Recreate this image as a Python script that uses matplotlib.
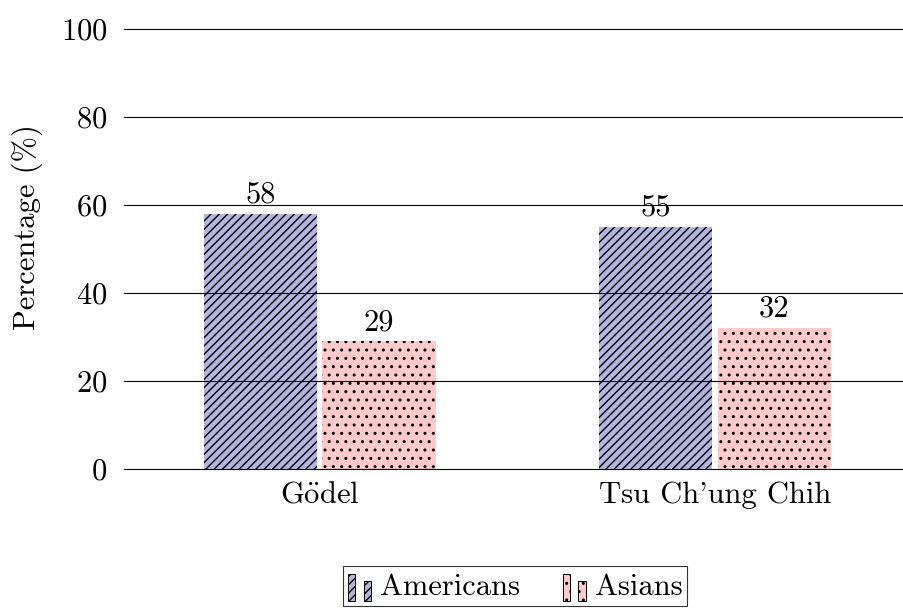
import matplotlib
matplotlib.use("Agg")
import matplotlib.pyplot as plt
from matplotlib.legend_handler import HandlerBase
from matplotlib.patches import Rectangle
from matplotlib.container import BarContainer
import numpy as np

plt.rcParams["font.family"] = ["cmr10", "DejaVu Serif"]
plt.rcParams["mathtext.fontset"] = "cm"
plt.rcParams["axes.formatter.use_mathtext"] = True
plt.rcParams["hatch.linewidth"] = 1.0

# data
people = [r"G$\ddot{\mathrm{o}}$del", "Tsu Ch'ung Chih"]
americans = [58, 55]
asians = [29, 32]
series_names = ["Americans", "Asians"]
yticks = [0, 20, 40, 60, 80, 100]

FS = 22


class TwoBarHandler(HandlerBase):
    # pgfplots-style legend image: two little bars
    def create_artists(self, legend, orig_handle, xdescent, ydescent,
                       width, height, fontsize, trans):
        p = orig_handle.patches[0]
        w = width * 0.32
        x0 = -xdescent
        y0 = -ydescent - 0.1 * height
        arts = []
        for dx, h in [(0.0, 1.0 * height), (width - w, 0.74 * height)]:
            r = Rectangle((x0 + dx, y0), w, h, facecolor=p.get_facecolor(),
                          edgecolor="black", hatch=p.get_hatch(),
                          linewidth=0.7, transform=trans)
            arts.append(r)
        return arts


fig = plt.figure(figsize=(9.04, 6.12), dpi=100)
ax = fig.add_axes([0.137, 0.2337, 0.862, 0.7189])

x = np.arange(len(people))
bw = 0.287
b1 = ax.bar(x - 0.15, americans, bw, color="#b4b4e0", edgecolor="black",
            linewidth=0, hatch="////", label=series_names[0])
b2 = ax.bar(x + 0.15, asians, bw, color="#ffcaca", edgecolor="black",
            linewidth=0, hatch="..", label=series_names[1])

for bars, vals in [(b1, americans), (b2, asians)]:
    for rect, v in zip(bars, vals):
        ax.text(rect.get_x() + rect.get_width() / 2, v + 1.2, str(v),
                ha="center", va="bottom", fontsize=FS)

ax.set_xlim(-0.496, 1.476)
ax.set_ylim(0, 100)
ax.set_yticks(yticks)
ax.set_xticks(x)
ax.set_xticklabels(people)
ax.tick_params(length=0, labelsize=FS)
ax.tick_params(axis="y", pad=12)
ax.tick_params(axis="x", pad=9)
for s in ax.spines.values():
    s.set_visible(False)
ax.set_axisbelow(False)
ax.yaxis.grid(True, color="black", linewidth=0.8)
for gl in ax.get_ygridlines():
    gl.set_clip_on(False)
ax.set_ylabel("Percentage (%)", fontsize=FS)
ax.yaxis.set_label_coords(-0.104, 0.55)

leg = fig.legend(handles=[b1, b2], labels=series_names, ncol=2,
                 loc="center", bbox_to_anchor=(0.570, 0.0425),
                 handler_map={BarContainer: TwoBarHandler()},
                 fontsize=FS, frameon=True, fancybox=False,
                 handlelength=0.75, handleheight=1.0, handletextpad=0.3,
                 columnspacing=1.4, borderpad=0.15, edgecolor="black")
leg.get_frame().set_linewidth(0.8)

fig.savefig("out.png", dpi=100)
